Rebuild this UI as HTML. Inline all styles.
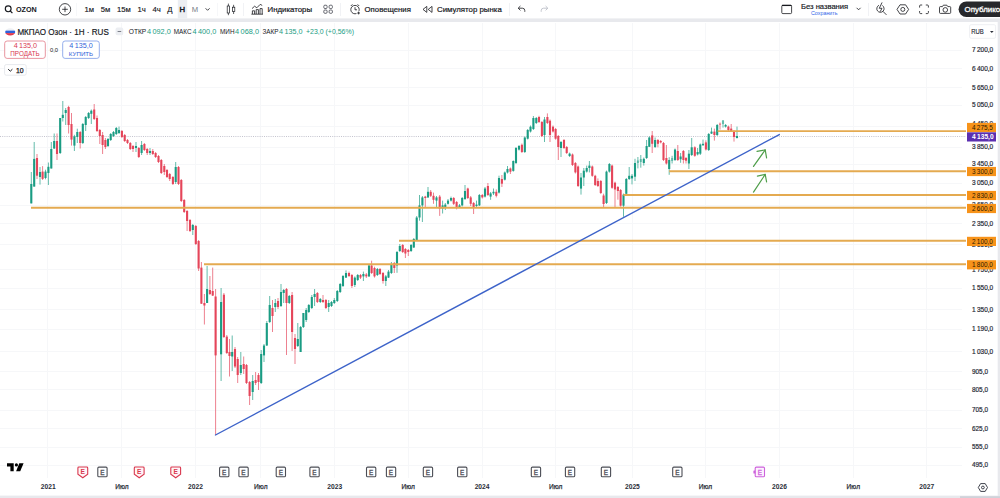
<!DOCTYPE html><html><head><meta charset="utf-8"><title>OZON</title>
<style>html,body{margin:0;padding:0;background:#fff;}body{width:1000px;height:498px;overflow:hidden;position:relative;font-family:"Liberation Sans",sans-serif;}svg{position:absolute;left:0;top:0;display:block}text{font-family:"Liberation Sans",sans-serif;}</style>
</head><body>
<svg width="1000" height="498" viewBox="0 0 1000 498">
<rect x="0" y="0" width="1000" height="498" fill="#ffffff"/>
<g stroke="#f6f7f9" stroke-width="1" shape-rendering="crispEdges">
<line x1="47.5" y1="23" x2="47.5" y2="478"/>
<line x1="121.5" y1="23" x2="121.5" y2="478"/>
<line x1="195.5" y1="23" x2="195.5" y2="478"/>
<line x1="260.5" y1="23" x2="260.5" y2="478"/>
<line x1="334.5" y1="23" x2="334.5" y2="478"/>
<line x1="408.5" y1="23" x2="408.5" y2="478"/>
<line x1="482.5" y1="23" x2="482.5" y2="478"/>
<line x1="555.5" y1="23" x2="555.5" y2="478"/>
<line x1="632.5" y1="23" x2="632.5" y2="478"/>
<line x1="705.5" y1="23" x2="705.5" y2="478"/>
<line x1="779.5" y1="23" x2="779.5" y2="478"/>
<line x1="853.5" y1="23" x2="853.5" y2="478"/>
<line x1="926.5" y1="23" x2="926.5" y2="478"/>
<line x1="0" y1="50.5" x2="962" y2="50.5"/>
<line x1="0" y1="68.5" x2="962" y2="68.5"/>
<line x1="0" y1="87.5" x2="962" y2="87.5"/>
<line x1="0" y1="105.5" x2="962" y2="105.5"/>
<line x1="0" y1="147.5" x2="962" y2="147.5"/>
<line x1="0" y1="164.5" x2="962" y2="164.5"/>
<line x1="0" y1="183.5" x2="962" y2="183.5"/>
<line x1="0" y1="223.5" x2="962" y2="223.5"/>
<line x1="0" y1="288.5" x2="962" y2="288.5"/>
<line x1="0" y1="309.5" x2="962" y2="309.5"/>
<line x1="0" y1="329.5" x2="962" y2="329.5"/>
<line x1="0" y1="351.5" x2="962" y2="351.5"/>
<line x1="0" y1="371.5" x2="962" y2="371.5"/>
<line x1="0" y1="389.5" x2="962" y2="389.5"/>
<line x1="0" y1="410.5" x2="962" y2="410.5"/>
<line x1="0" y1="428.5" x2="962" y2="428.5"/>
<line x1="0" y1="447.5" x2="962" y2="447.5"/>
<line x1="0" y1="465.5" x2="962" y2="465.5"/>
<line x1="0" y1="126.5" x2="962" y2="126.5"/>
<line x1="0" y1="205.5" x2="962" y2="205.5"/>
<line x1="0" y1="244.5" x2="962" y2="244.5"/>
<line x1="0" y1="269.5" x2="962" y2="269.5"/>
</g>
<line x1="0" y1="136.5" x2="966" y2="136.5" stroke="#a3a3b4" stroke-width="0.8" stroke-dasharray="1 1.2" opacity="0.8"/>
<g>
<line x1="31.3" y1="172.0" x2="31.3" y2="203.4" stroke="#1a9c83" stroke-width="0.9" opacity="0.75"/>
<rect x="30.25" y="184.0" width="2.1" height="19.4" fill="#1a9c83"/>
<line x1="34.2" y1="142.0" x2="34.2" y2="186.6" stroke="#1a9c83" stroke-width="0.9" opacity="0.75"/>
<rect x="33.15" y="158.9" width="2.1" height="27.7" fill="#1a9c83"/>
<line x1="37.0" y1="154.0" x2="37.0" y2="179.0" stroke="#e5455a" stroke-width="0.9" opacity="0.75"/>
<rect x="35.95" y="158.0" width="2.1" height="17.7" fill="#e5455a"/>
<line x1="40.0" y1="167.0" x2="40.0" y2="184.6" stroke="#1a9c83" stroke-width="0.9" opacity="0.75"/>
<rect x="38.95" y="172.0" width="2.1" height="5.0" fill="#1a9c83"/>
<line x1="42.6" y1="166.1" x2="42.6" y2="180.0" stroke="#e5455a" stroke-width="0.9" opacity="0.75"/>
<rect x="41.55" y="171.6" width="2.1" height="7.3" fill="#e5455a"/>
<line x1="45.5" y1="169.7" x2="45.5" y2="179.3" stroke="#1a9c83" stroke-width="0.9" opacity="0.75"/>
<rect x="44.45" y="171.6" width="2.1" height="6.4" fill="#1a9c83"/>
<line x1="48.4" y1="162.5" x2="48.4" y2="185.0" stroke="#1a9c83" stroke-width="0.9" opacity="0.75"/>
<rect x="47.35" y="166.8" width="2.1" height="6.2" fill="#1a9c83"/>
<line x1="51.3" y1="142.0" x2="51.3" y2="168.5" stroke="#1a9c83" stroke-width="0.9" opacity="0.75"/>
<rect x="50.25" y="149.0" width="2.1" height="19.5" fill="#1a9c83"/>
<line x1="54.2" y1="133.5" x2="54.2" y2="149.0" stroke="#1a9c83" stroke-width="0.9" opacity="0.75"/>
<rect x="53.15" y="141.0" width="2.1" height="7.5" fill="#1a9c83"/>
<line x1="57.0" y1="133.5" x2="57.0" y2="160.0" stroke="#e5455a" stroke-width="0.9" opacity="0.75"/>
<rect x="55.95" y="141.0" width="2.1" height="13.0" fill="#e5455a"/>
<line x1="60.2" y1="118.0" x2="60.2" y2="154.0" stroke="#1a9c83" stroke-width="0.9" opacity="0.75"/>
<rect x="59.15" y="118.0" width="2.1" height="35.0" fill="#1a9c83"/>
<line x1="62.8" y1="101.0" x2="62.8" y2="121.5" stroke="#1a9c83" stroke-width="0.9" opacity="0.75"/>
<rect x="61.75" y="114.8" width="2.1" height="3.2" fill="#1a9c83"/>
<line x1="65.7" y1="108.0" x2="65.7" y2="125.0" stroke="#1a9c83" stroke-width="0.9" opacity="0.75"/>
<rect x="64.65" y="110.0" width="2.1" height="3.0" fill="#1a9c83"/>
<line x1="68.6" y1="105.8" x2="68.6" y2="133.5" stroke="#e5455a" stroke-width="0.9" opacity="0.75"/>
<rect x="67.55" y="107.0" width="2.1" height="18.0" fill="#e5455a"/>
<line x1="71.5" y1="113.0" x2="71.5" y2="145.6" stroke="#e5455a" stroke-width="0.9" opacity="0.75"/>
<rect x="70.45" y="124.0" width="2.1" height="15.6" fill="#e5455a"/>
<line x1="74.4" y1="134.8" x2="74.4" y2="151.0" stroke="#1a9c83" stroke-width="0.9" opacity="0.75"/>
<rect x="73.35" y="136.4" width="2.1" height="9.2" fill="#1a9c83"/>
<line x1="77.3" y1="128.7" x2="77.3" y2="143.0" stroke="#1a9c83" stroke-width="0.9" opacity="0.75"/>
<rect x="76.25" y="132.0" width="2.1" height="5.0" fill="#1a9c83"/>
<line x1="80.2" y1="131.0" x2="80.2" y2="148.5" stroke="#e5455a" stroke-width="0.9" opacity="0.75"/>
<rect x="79.15" y="132.0" width="2.1" height="11.0" fill="#e5455a"/>
<line x1="82.8" y1="123.0" x2="82.8" y2="144.0" stroke="#1a9c83" stroke-width="0.9" opacity="0.75"/>
<rect x="81.75" y="124.0" width="2.1" height="19.0" fill="#1a9c83"/>
<line x1="85.7" y1="116.0" x2="85.7" y2="131.0" stroke="#1a9c83" stroke-width="0.9" opacity="0.75"/>
<rect x="84.65" y="117.0" width="2.1" height="8.0" fill="#1a9c83"/>
<line x1="88.6" y1="112.0" x2="88.6" y2="119.0" stroke="#1a9c83" stroke-width="0.9" opacity="0.75"/>
<rect x="87.55" y="113.0" width="2.1" height="5.0" fill="#1a9c83"/>
<line x1="91.3" y1="109.5" x2="91.3" y2="124.0" stroke="#1a9c83" stroke-width="0.9" opacity="0.75"/>
<rect x="90.25" y="110.7" width="2.1" height="3.1" fill="#1a9c83"/>
<line x1="94.2" y1="104.0" x2="94.2" y2="120.0" stroke="#e5455a" stroke-width="0.9" opacity="0.75"/>
<rect x="93.15" y="109.5" width="2.1" height="9.5" fill="#e5455a"/>
<line x1="97.0" y1="115.5" x2="97.0" y2="132.0" stroke="#e5455a" stroke-width="0.9" opacity="0.75"/>
<rect x="95.95" y="118.0" width="2.1" height="13.0" fill="#e5455a"/>
<line x1="99.8" y1="129.0" x2="99.8" y2="144.0" stroke="#e5455a" stroke-width="0.9" opacity="0.75"/>
<rect x="98.75" y="130.0" width="2.1" height="6.0" fill="#e5455a"/>
<line x1="102.6" y1="132.0" x2="102.6" y2="154.0" stroke="#e5455a" stroke-width="0.9" opacity="0.75"/>
<rect x="101.55" y="135.0" width="2.1" height="10.0" fill="#e5455a"/>
<line x1="105.4" y1="138.0" x2="105.4" y2="149.0" stroke="#e5455a" stroke-width="0.9" opacity="0.75"/>
<rect x="104.35" y="140.0" width="2.1" height="7.0" fill="#e5455a"/>
<line x1="108.0" y1="138.0" x2="108.0" y2="147.0" stroke="#1a9c83" stroke-width="0.9" opacity="0.75"/>
<rect x="106.95" y="139.0" width="2.1" height="7.0" fill="#1a9c83"/>
<line x1="110.7" y1="133.0" x2="110.7" y2="141.0" stroke="#1a9c83" stroke-width="0.9" opacity="0.75"/>
<rect x="109.65" y="134.0" width="2.1" height="6.0" fill="#1a9c83"/>
<line x1="113.5" y1="131.0" x2="113.5" y2="137.0" stroke="#1a9c83" stroke-width="0.9" opacity="0.75"/>
<rect x="112.45" y="132.0" width="2.1" height="4.0" fill="#1a9c83"/>
<line x1="116.3" y1="127.0" x2="116.3" y2="135.0" stroke="#1a9c83" stroke-width="0.9" opacity="0.75"/>
<rect x="115.25" y="128.0" width="2.1" height="6.0" fill="#1a9c83"/>
<line x1="119.0" y1="126.6" x2="119.0" y2="134.0" stroke="#1a9c83" stroke-width="0.9" opacity="0.75"/>
<rect x="117.95" y="130.0" width="2.1" height="3.0" fill="#1a9c83"/>
<line x1="121.9" y1="130.0" x2="121.9" y2="138.0" stroke="#e5455a" stroke-width="0.9" opacity="0.75"/>
<rect x="120.85" y="131.0" width="2.1" height="6.0" fill="#e5455a"/>
<line x1="124.7" y1="134.0" x2="124.7" y2="142.0" stroke="#e5455a" stroke-width="0.9" opacity="0.75"/>
<rect x="123.65" y="135.0" width="2.1" height="6.0" fill="#e5455a"/>
<line x1="127.5" y1="139.0" x2="127.5" y2="144.0" stroke="#e5455a" stroke-width="0.9" opacity="0.75"/>
<rect x="126.45" y="140.0" width="2.1" height="3.0" fill="#e5455a"/>
<line x1="130.3" y1="142.0" x2="130.3" y2="150.0" stroke="#e5455a" stroke-width="0.9" opacity="0.75"/>
<rect x="129.25" y="143.0" width="2.1" height="6.0" fill="#e5455a"/>
<line x1="133.0" y1="145.0" x2="133.0" y2="152.0" stroke="#e5455a" stroke-width="0.9" opacity="0.75"/>
<rect x="131.95" y="146.0" width="2.1" height="3.0" fill="#e5455a"/>
<line x1="136.0" y1="142.0" x2="136.0" y2="152.0" stroke="#1a9c83" stroke-width="0.9" opacity="0.75"/>
<rect x="134.95" y="146.0" width="2.1" height="2.0" fill="#1a9c83"/>
<line x1="138.8" y1="147.0" x2="138.8" y2="158.0" stroke="#e5455a" stroke-width="0.9" opacity="0.75"/>
<rect x="137.75" y="148.0" width="2.1" height="9.0" fill="#e5455a"/>
<line x1="141.6" y1="141.0" x2="141.6" y2="155.0" stroke="#1a9c83" stroke-width="0.9" opacity="0.75"/>
<rect x="140.55" y="145.0" width="2.1" height="8.0" fill="#1a9c83"/>
<line x1="144.4" y1="143.0" x2="144.4" y2="151.0" stroke="#e5455a" stroke-width="0.9" opacity="0.75"/>
<rect x="143.35" y="144.0" width="2.1" height="6.0" fill="#e5455a"/>
<line x1="147.2" y1="148.0" x2="147.2" y2="155.0" stroke="#e5455a" stroke-width="0.9" opacity="0.75"/>
<rect x="146.15" y="149.0" width="2.1" height="4.0" fill="#e5455a"/>
<line x1="150.0" y1="148.0" x2="150.0" y2="155.0" stroke="#1a9c83" stroke-width="0.9" opacity="0.75"/>
<rect x="148.95" y="151.0" width="2.1" height="2.0" fill="#1a9c83"/>
<line x1="152.8" y1="149.0" x2="152.8" y2="155.0" stroke="#e5455a" stroke-width="0.9" opacity="0.75"/>
<rect x="151.75" y="151.0" width="2.1" height="3.0" fill="#e5455a"/>
<line x1="155.6" y1="152.0" x2="155.6" y2="158.0" stroke="#e5455a" stroke-width="0.9" opacity="0.75"/>
<rect x="154.55" y="153.0" width="2.1" height="4.0" fill="#e5455a"/>
<line x1="158.5" y1="155.0" x2="158.5" y2="163.0" stroke="#e5455a" stroke-width="0.9" opacity="0.75"/>
<rect x="157.45" y="156.0" width="2.1" height="6.0" fill="#e5455a"/>
<line x1="161.3" y1="159.0" x2="161.3" y2="174.0" stroke="#e5455a" stroke-width="0.9" opacity="0.75"/>
<rect x="160.25" y="160.0" width="2.1" height="13.0" fill="#e5455a"/>
<line x1="164.3" y1="164.0" x2="164.3" y2="175.0" stroke="#e5455a" stroke-width="0.9" opacity="0.75"/>
<rect x="163.25" y="166.0" width="2.1" height="6.0" fill="#e5455a"/>
<line x1="167.0" y1="169.0" x2="167.0" y2="178.0" stroke="#e5455a" stroke-width="0.9" opacity="0.75"/>
<rect x="165.95" y="170.0" width="2.1" height="7.0" fill="#e5455a"/>
<line x1="169.7" y1="173.0" x2="169.7" y2="181.0" stroke="#e5455a" stroke-width="0.9" opacity="0.75"/>
<rect x="168.65" y="174.0" width="2.1" height="5.0" fill="#e5455a"/>
<line x1="172.9" y1="176.0" x2="172.9" y2="185.0" stroke="#e5455a" stroke-width="0.9" opacity="0.75"/>
<rect x="171.85" y="177.0" width="2.1" height="7.0" fill="#e5455a"/>
<line x1="175.7" y1="162.0" x2="175.7" y2="184.0" stroke="#1a9c83" stroke-width="0.9" opacity="0.75"/>
<rect x="174.65" y="167.0" width="2.1" height="15.0" fill="#1a9c83"/>
<line x1="178.5" y1="166.0" x2="178.5" y2="185.0" stroke="#e5455a" stroke-width="0.9" opacity="0.75"/>
<rect x="177.45" y="167.0" width="2.1" height="17.0" fill="#e5455a"/>
<line x1="181.3" y1="179.0" x2="181.3" y2="202.0" stroke="#e5455a" stroke-width="0.9" opacity="0.75"/>
<rect x="180.25" y="180.0" width="2.1" height="21.0" fill="#e5455a"/>
<line x1="184.2" y1="199.0" x2="184.2" y2="213.0" stroke="#e5455a" stroke-width="0.9" opacity="0.75"/>
<rect x="183.15" y="200.0" width="2.1" height="12.0" fill="#e5455a"/>
<line x1="187.1" y1="210.0" x2="187.1" y2="231.0" stroke="#e5455a" stroke-width="0.9" opacity="0.75"/>
<rect x="186.05" y="211.0" width="2.1" height="10.0" fill="#e5455a"/>
<line x1="190.0" y1="219.0" x2="190.0" y2="232.0" stroke="#e5455a" stroke-width="0.9" opacity="0.75"/>
<rect x="188.95" y="220.0" width="2.1" height="11.0" fill="#e5455a"/>
<line x1="192.8" y1="224.0" x2="192.8" y2="235.0" stroke="#1a9c83" stroke-width="0.9" opacity="0.75"/>
<rect x="191.75" y="225.0" width="2.1" height="5.0" fill="#1a9c83"/>
<line x1="195.8" y1="225.0" x2="195.8" y2="245.0" stroke="#e5455a" stroke-width="0.9" opacity="0.75"/>
<rect x="194.75" y="226.0" width="2.1" height="18.0" fill="#e5455a"/>
<line x1="198.6" y1="240.0" x2="198.6" y2="271.0" stroke="#e5455a" stroke-width="0.9" opacity="0.75"/>
<rect x="197.55" y="241.0" width="2.1" height="27.5" fill="#e5455a"/>
<line x1="201.4" y1="262.0" x2="201.4" y2="304.0" stroke="#e5455a" stroke-width="0.9" opacity="0.75"/>
<rect x="200.35" y="267.6" width="2.1" height="36.1" fill="#e5455a"/>
<line x1="204.4" y1="294.0" x2="204.4" y2="324.5" stroke="#e5455a" stroke-width="0.9" opacity="0.75"/>
<rect x="203.35" y="303.0" width="2.1" height="2.5" fill="#e5455a"/>
<line x1="207.1" y1="266.0" x2="207.1" y2="303.0" stroke="#1a9c83" stroke-width="0.9" opacity="0.75"/>
<rect x="206.05" y="289.0" width="2.1" height="14.0" fill="#1a9c83"/>
<line x1="209.9" y1="276.0" x2="209.9" y2="295.0" stroke="#e5455a" stroke-width="0.9" opacity="0.75"/>
<rect x="208.85" y="290.0" width="2.1" height="4.0" fill="#e5455a"/>
<line x1="212.7" y1="267.6" x2="212.7" y2="296.0" stroke="#e5455a" stroke-width="0.9" opacity="0.75"/>
<rect x="211.65" y="291.0" width="2.1" height="4.6" fill="#e5455a"/>
<line x1="215.6" y1="289.0" x2="215.6" y2="435.0" stroke="#e5455a" stroke-width="0.9" opacity="0.75"/>
<rect x="214.55" y="296.5" width="2.1" height="58.9" fill="#e5455a"/>
<line x1="221.1" y1="288.0" x2="221.1" y2="381.0" stroke="#1a9c83" stroke-width="0.9" opacity="0.75"/>
<rect x="220.05" y="302.0" width="2.1" height="52.3" fill="#1a9c83"/>
<line x1="223.9" y1="293.0" x2="223.9" y2="338.0" stroke="#e5455a" stroke-width="0.9" opacity="0.75"/>
<rect x="222.85" y="294.7" width="2.1" height="42.3" fill="#e5455a"/>
<line x1="226.8" y1="335.0" x2="226.8" y2="354.0" stroke="#e5455a" stroke-width="0.9" opacity="0.75"/>
<rect x="225.75" y="336.6" width="2.1" height="16.4" fill="#e5455a"/>
<line x1="229.5" y1="339.0" x2="229.5" y2="376.5" stroke="#e5455a" stroke-width="0.9" opacity="0.75"/>
<rect x="228.45" y="352.0" width="2.1" height="4.0" fill="#e5455a"/>
<line x1="232.2" y1="335.5" x2="232.2" y2="371.0" stroke="#1a9c83" stroke-width="0.9" opacity="0.75"/>
<rect x="231.15" y="352.0" width="2.1" height="4.5" fill="#1a9c83"/>
<line x1="235.0" y1="347.0" x2="235.0" y2="368.0" stroke="#e5455a" stroke-width="0.9" opacity="0.75"/>
<rect x="233.95" y="349.0" width="2.1" height="17.5" fill="#e5455a"/>
<line x1="237.7" y1="357.0" x2="237.7" y2="383.0" stroke="#e5455a" stroke-width="0.9" opacity="0.75"/>
<rect x="236.65" y="359.0" width="2.1" height="16.0" fill="#e5455a"/>
<line x1="240.8" y1="352.0" x2="240.8" y2="375.0" stroke="#1a9c83" stroke-width="0.9" opacity="0.75"/>
<rect x="239.75" y="365.0" width="2.1" height="8.0" fill="#1a9c83"/>
<line x1="243.7" y1="356.5" x2="243.7" y2="374.0" stroke="#e5455a" stroke-width="0.9" opacity="0.75"/>
<rect x="242.65" y="364.0" width="2.1" height="5.0" fill="#e5455a"/>
<line x1="246.5" y1="364.0" x2="246.5" y2="384.0" stroke="#e5455a" stroke-width="0.9" opacity="0.75"/>
<rect x="245.45" y="365.0" width="2.1" height="18.0" fill="#e5455a"/>
<line x1="249.6" y1="381.0" x2="249.6" y2="405.0" stroke="#e5455a" stroke-width="0.9" opacity="0.75"/>
<rect x="248.55" y="382.0" width="2.1" height="14.0" fill="#e5455a"/>
<line x1="252.7" y1="375.0" x2="252.7" y2="400.0" stroke="#1a9c83" stroke-width="0.9" opacity="0.75"/>
<rect x="251.65" y="381.0" width="2.1" height="11.0" fill="#1a9c83"/>
<line x1="255.6" y1="372.0" x2="255.6" y2="385.0" stroke="#e5455a" stroke-width="0.9" opacity="0.75"/>
<rect x="254.55" y="380.0" width="2.1" height="3.0" fill="#e5455a"/>
<line x1="258.5" y1="373.0" x2="258.5" y2="390.0" stroke="#e5455a" stroke-width="0.9" opacity="0.75"/>
<rect x="257.45" y="375.0" width="2.1" height="7.0" fill="#e5455a"/>
<line x1="261.2" y1="350.0" x2="261.2" y2="384.0" stroke="#1a9c83" stroke-width="0.9" opacity="0.75"/>
<rect x="260.15" y="354.0" width="2.1" height="29.0" fill="#1a9c83"/>
<line x1="264.0" y1="344.0" x2="264.0" y2="362.0" stroke="#1a9c83" stroke-width="0.9" opacity="0.75"/>
<rect x="262.95" y="345.5" width="2.1" height="9.9" fill="#1a9c83"/>
<line x1="266.8" y1="321.0" x2="266.8" y2="346.0" stroke="#1a9c83" stroke-width="0.9" opacity="0.75"/>
<rect x="265.75" y="323.0" width="2.1" height="22.5" fill="#1a9c83"/>
<line x1="269.7" y1="296.0" x2="269.7" y2="323.0" stroke="#1a9c83" stroke-width="0.9" opacity="0.75"/>
<rect x="268.65" y="305.0" width="2.1" height="17.0" fill="#1a9c83"/>
<line x1="272.5" y1="300.0" x2="272.5" y2="332.0" stroke="#e5455a" stroke-width="0.9" opacity="0.75"/>
<rect x="271.45" y="308.0" width="2.1" height="8.0" fill="#e5455a"/>
<line x1="275.3" y1="299.0" x2="275.3" y2="312.0" stroke="#1a9c83" stroke-width="0.9" opacity="0.75"/>
<rect x="274.25" y="303.0" width="2.1" height="4.0" fill="#1a9c83"/>
<line x1="278.0" y1="298.0" x2="278.0" y2="309.0" stroke="#e5455a" stroke-width="0.9" opacity="0.75"/>
<rect x="276.95" y="301.0" width="2.1" height="6.0" fill="#e5455a"/>
<line x1="281.0" y1="284.0" x2="281.0" y2="307.0" stroke="#1a9c83" stroke-width="0.9" opacity="0.75"/>
<rect x="279.95" y="292.0" width="2.1" height="14.0" fill="#1a9c83"/>
<line x1="283.7" y1="289.0" x2="283.7" y2="303.0" stroke="#1a9c83" stroke-width="0.9" opacity="0.75"/>
<rect x="282.65" y="290.0" width="2.1" height="3.0" fill="#1a9c83"/>
<line x1="286.5" y1="288.0" x2="286.5" y2="355.0" stroke="#e5455a" stroke-width="0.9" opacity="0.75"/>
<rect x="285.45" y="289.0" width="2.1" height="14.0" fill="#e5455a"/>
<line x1="289.3" y1="295.0" x2="289.3" y2="304.0" stroke="#1a9c83" stroke-width="0.9" opacity="0.75"/>
<rect x="288.25" y="296.0" width="2.1" height="7.0" fill="#1a9c83"/>
<line x1="292.1" y1="292.0" x2="292.1" y2="351.0" stroke="#e5455a" stroke-width="0.9" opacity="0.75"/>
<rect x="291.05" y="295.0" width="2.1" height="37.0" fill="#e5455a"/>
<line x1="295.0" y1="334.0" x2="295.0" y2="364.0" stroke="#e5455a" stroke-width="0.9" opacity="0.75"/>
<rect x="293.95" y="338.0" width="2.1" height="11.0" fill="#e5455a"/>
<line x1="297.8" y1="323.0" x2="297.8" y2="347.0" stroke="#1a9c83" stroke-width="0.9" opacity="0.75"/>
<rect x="296.75" y="339.0" width="2.1" height="7.0" fill="#1a9c83"/>
<line x1="300.6" y1="326.0" x2="300.6" y2="352.0" stroke="#1a9c83" stroke-width="0.9" opacity="0.75"/>
<rect x="299.55" y="327.0" width="2.1" height="25.0" fill="#1a9c83"/>
<line x1="303.4" y1="313.0" x2="303.4" y2="328.0" stroke="#1a9c83" stroke-width="0.9" opacity="0.75"/>
<rect x="302.35" y="313.0" width="2.1" height="14.0" fill="#1a9c83"/>
<line x1="306.2" y1="308.0" x2="306.2" y2="322.0" stroke="#1a9c83" stroke-width="0.9" opacity="0.75"/>
<rect x="305.15" y="310.0" width="2.1" height="10.0" fill="#1a9c83"/>
<line x1="308.8" y1="304.0" x2="308.8" y2="313.0" stroke="#1a9c83" stroke-width="0.9" opacity="0.75"/>
<rect x="307.75" y="305.0" width="2.1" height="7.0" fill="#1a9c83"/>
<line x1="311.8" y1="295.0" x2="311.8" y2="309.0" stroke="#1a9c83" stroke-width="0.9" opacity="0.75"/>
<rect x="310.75" y="297.0" width="2.1" height="11.0" fill="#1a9c83"/>
<line x1="314.6" y1="289.0" x2="314.6" y2="306.0" stroke="#1a9c83" stroke-width="0.9" opacity="0.75"/>
<rect x="313.55" y="294.0" width="2.1" height="3.0" fill="#1a9c83"/>
<line x1="317.4" y1="292.0" x2="317.4" y2="303.0" stroke="#e5455a" stroke-width="0.9" opacity="0.75"/>
<rect x="316.35" y="293.0" width="2.1" height="9.0" fill="#e5455a"/>
<line x1="320.3" y1="298.0" x2="320.3" y2="303.0" stroke="#1a9c83" stroke-width="0.9" opacity="0.75"/>
<rect x="319.25" y="299.0" width="2.1" height="3.0" fill="#1a9c83"/>
<line x1="323.0" y1="295.0" x2="323.0" y2="303.0" stroke="#e5455a" stroke-width="0.9" opacity="0.75"/>
<rect x="321.95" y="300.0" width="2.1" height="2.0" fill="#e5455a"/>
<line x1="325.9" y1="299.0" x2="325.9" y2="309.0" stroke="#e5455a" stroke-width="0.9" opacity="0.75"/>
<rect x="324.85" y="300.0" width="2.1" height="8.0" fill="#e5455a"/>
<line x1="328.7" y1="300.0" x2="328.7" y2="312.0" stroke="#1a9c83" stroke-width="0.9" opacity="0.75"/>
<rect x="327.65" y="303.0" width="2.1" height="4.0" fill="#1a9c83"/>
<line x1="331.5" y1="301.0" x2="331.5" y2="307.0" stroke="#1a9c83" stroke-width="0.9" opacity="0.75"/>
<rect x="330.45" y="302.0" width="2.1" height="4.0" fill="#1a9c83"/>
<line x1="334.3" y1="298.0" x2="334.3" y2="304.0" stroke="#1a9c83" stroke-width="0.9" opacity="0.75"/>
<rect x="333.25" y="300.0" width="2.1" height="3.0" fill="#1a9c83"/>
<line x1="337.3" y1="290.0" x2="337.3" y2="302.0" stroke="#1a9c83" stroke-width="0.9" opacity="0.75"/>
<rect x="336.25" y="291.0" width="2.1" height="10.0" fill="#1a9c83"/>
<line x1="340.2" y1="283.0" x2="340.2" y2="293.0" stroke="#1a9c83" stroke-width="0.9" opacity="0.75"/>
<rect x="339.15" y="284.0" width="2.1" height="8.0" fill="#1a9c83"/>
<line x1="343.0" y1="275.0" x2="343.0" y2="287.0" stroke="#1a9c83" stroke-width="0.9" opacity="0.75"/>
<rect x="341.95" y="276.0" width="2.1" height="10.0" fill="#1a9c83"/>
<line x1="346.0" y1="270.4" x2="346.0" y2="278.0" stroke="#1a9c83" stroke-width="0.9" opacity="0.75"/>
<rect x="344.95" y="273.0" width="2.1" height="4.6" fill="#1a9c83"/>
<line x1="349.0" y1="271.6" x2="349.0" y2="277.0" stroke="#e5455a" stroke-width="0.9" opacity="0.75"/>
<rect x="347.95" y="273.0" width="2.1" height="3.0" fill="#e5455a"/>
<line x1="351.9" y1="274.0" x2="351.9" y2="288.0" stroke="#e5455a" stroke-width="0.9" opacity="0.75"/>
<rect x="350.85" y="275.0" width="2.1" height="11.0" fill="#e5455a"/>
<line x1="354.8" y1="276.4" x2="354.8" y2="287.0" stroke="#1a9c83" stroke-width="0.9" opacity="0.75"/>
<rect x="353.75" y="277.6" width="2.1" height="7.4" fill="#1a9c83"/>
<line x1="357.7" y1="274.0" x2="357.7" y2="281.0" stroke="#1a9c83" stroke-width="0.9" opacity="0.75"/>
<rect x="356.65" y="275.0" width="2.1" height="5.0" fill="#1a9c83"/>
<line x1="360.5" y1="274.0" x2="360.5" y2="279.0" stroke="#e5455a" stroke-width="0.9" opacity="0.75"/>
<rect x="359.45" y="275.0" width="2.1" height="2.6" fill="#e5455a"/>
<line x1="363.4" y1="271.6" x2="363.4" y2="281.0" stroke="#1a9c83" stroke-width="0.9" opacity="0.75"/>
<rect x="362.35" y="274.0" width="2.1" height="2.4" fill="#1a9c83"/>
<line x1="366.3" y1="273.0" x2="366.3" y2="278.0" stroke="#e5455a" stroke-width="0.9" opacity="0.75"/>
<rect x="365.25" y="274.5" width="2.1" height="1.9" fill="#e5455a"/>
<line x1="369.0" y1="264.0" x2="369.0" y2="277.0" stroke="#1a9c83" stroke-width="0.9" opacity="0.75"/>
<rect x="367.95" y="265.5" width="2.1" height="10.9" fill="#1a9c83"/>
<line x1="371.6" y1="260.7" x2="371.6" y2="274.0" stroke="#e5455a" stroke-width="0.9" opacity="0.75"/>
<rect x="370.55" y="265.5" width="2.1" height="7.5" fill="#e5455a"/>
<line x1="374.5" y1="266.7" x2="374.5" y2="277.6" stroke="#e5455a" stroke-width="0.9" opacity="0.75"/>
<rect x="373.45" y="268.0" width="2.1" height="8.4" fill="#e5455a"/>
<line x1="377.4" y1="268.0" x2="377.4" y2="276.0" stroke="#1a9c83" stroke-width="0.9" opacity="0.75"/>
<rect x="376.35" y="269.0" width="2.1" height="6.0" fill="#1a9c83"/>
<line x1="380.0" y1="268.0" x2="380.0" y2="275.0" stroke="#e5455a" stroke-width="0.9" opacity="0.75"/>
<rect x="378.95" y="269.0" width="2.1" height="5.0" fill="#e5455a"/>
<line x1="383.0" y1="272.0" x2="383.0" y2="283.6" stroke="#e5455a" stroke-width="0.9" opacity="0.75"/>
<rect x="381.95" y="273.0" width="2.1" height="8.0" fill="#e5455a"/>
<line x1="385.8" y1="275.0" x2="385.8" y2="286.0" stroke="#1a9c83" stroke-width="0.9" opacity="0.75"/>
<rect x="384.75" y="276.4" width="2.1" height="4.6" fill="#1a9c83"/>
<line x1="388.5" y1="270.0" x2="388.5" y2="278.0" stroke="#1a9c83" stroke-width="0.9" opacity="0.75"/>
<rect x="387.45" y="271.6" width="2.1" height="6.0" fill="#1a9c83"/>
<line x1="391.4" y1="262.0" x2="391.4" y2="274.0" stroke="#1a9c83" stroke-width="0.9" opacity="0.75"/>
<rect x="390.35" y="264.0" width="2.1" height="9.0" fill="#1a9c83"/>
<line x1="394.3" y1="262.0" x2="394.3" y2="273.0" stroke="#e5455a" stroke-width="0.9" opacity="0.75"/>
<rect x="393.25" y="263.0" width="2.1" height="5.0" fill="#e5455a"/>
<line x1="397.0" y1="251.0" x2="397.0" y2="272.8" stroke="#1a9c83" stroke-width="0.9" opacity="0.75"/>
<rect x="395.95" y="252.0" width="2.1" height="13.5" fill="#1a9c83"/>
<line x1="399.8" y1="244.0" x2="399.8" y2="252.0" stroke="#1a9c83" stroke-width="0.9" opacity="0.75"/>
<rect x="398.75" y="246.0" width="2.1" height="5.0" fill="#1a9c83"/>
<line x1="402.7" y1="244.0" x2="402.7" y2="253.0" stroke="#e5455a" stroke-width="0.9" opacity="0.75"/>
<rect x="401.65" y="245.0" width="2.1" height="7.0" fill="#e5455a"/>
<line x1="405.4" y1="248.0" x2="405.4" y2="258.0" stroke="#e5455a" stroke-width="0.9" opacity="0.75"/>
<rect x="404.35" y="249.0" width="2.1" height="4.5" fill="#e5455a"/>
<line x1="408.3" y1="249.0" x2="408.3" y2="256.0" stroke="#e5455a" stroke-width="0.9" opacity="0.75"/>
<rect x="407.25" y="250.0" width="2.1" height="2.0" fill="#e5455a"/>
<line x1="411.1" y1="244.0" x2="411.1" y2="252.0" stroke="#1a9c83" stroke-width="0.9" opacity="0.75"/>
<rect x="410.05" y="245.0" width="2.1" height="6.0" fill="#1a9c83"/>
<line x1="413.8" y1="238.0" x2="413.8" y2="248.0" stroke="#1a9c83" stroke-width="0.9" opacity="0.75"/>
<rect x="412.75" y="239.0" width="2.1" height="8.5" fill="#1a9c83"/>
<line x1="416.7" y1="216.0" x2="416.7" y2="241.0" stroke="#1a9c83" stroke-width="0.9" opacity="0.75"/>
<rect x="415.65" y="217.5" width="2.1" height="22.5" fill="#1a9c83"/>
<line x1="419.5" y1="195.0" x2="419.5" y2="220.7" stroke="#1a9c83" stroke-width="0.9" opacity="0.75"/>
<rect x="418.45" y="205.4" width="2.1" height="12.1" fill="#1a9c83"/>
<line x1="422.4" y1="196.0" x2="422.4" y2="222.0" stroke="#1a9c83" stroke-width="0.9" opacity="0.75"/>
<rect x="421.35" y="197.4" width="2.1" height="8.0" fill="#1a9c83"/>
<line x1="425.3" y1="195.8" x2="425.3" y2="207.0" stroke="#e5455a" stroke-width="0.9" opacity="0.75"/>
<rect x="424.25" y="196.6" width="2.1" height="1.4" fill="#e5455a"/>
<line x1="428.0" y1="187.0" x2="428.0" y2="198.0" stroke="#1a9c83" stroke-width="0.9" opacity="0.75"/>
<rect x="426.95" y="191.8" width="2.1" height="5.6" fill="#1a9c83"/>
<line x1="430.7" y1="190.0" x2="430.7" y2="197.0" stroke="#e5455a" stroke-width="0.9" opacity="0.75"/>
<rect x="429.65" y="191.8" width="2.1" height="4.0" fill="#e5455a"/>
<line x1="433.5" y1="192.6" x2="433.5" y2="203.8" stroke="#e5455a" stroke-width="0.9" opacity="0.75"/>
<rect x="432.45" y="195.8" width="2.1" height="4.0" fill="#e5455a"/>
<line x1="436.5" y1="196.0" x2="436.5" y2="207.0" stroke="#1a9c83" stroke-width="0.9" opacity="0.75"/>
<rect x="435.45" y="197.4" width="2.1" height="3.2" fill="#1a9c83"/>
<line x1="439.7" y1="195.0" x2="439.7" y2="215.9" stroke="#e5455a" stroke-width="0.9" opacity="0.75"/>
<rect x="438.65" y="196.6" width="2.1" height="12.0" fill="#e5455a"/>
<line x1="442.6" y1="200.6" x2="442.6" y2="213.5" stroke="#1a9c83" stroke-width="0.9" opacity="0.75"/>
<rect x="441.55" y="205.4" width="2.1" height="3.2" fill="#1a9c83"/>
<line x1="445.3" y1="203.0" x2="445.3" y2="210.0" stroke="#1a9c83" stroke-width="0.9" opacity="0.75"/>
<rect x="444.25" y="204.6" width="2.1" height="2.4" fill="#1a9c83"/>
<line x1="448.0" y1="199.0" x2="448.0" y2="204.6" stroke="#1a9c83" stroke-width="0.9" opacity="0.75"/>
<rect x="446.95" y="200.6" width="2.1" height="3.2" fill="#1a9c83"/>
<line x1="451.0" y1="196.6" x2="451.0" y2="201.5" stroke="#1a9c83" stroke-width="0.9" opacity="0.75"/>
<rect x="449.95" y="198.0" width="2.1" height="2.6" fill="#1a9c83"/>
<line x1="453.7" y1="197.0" x2="453.7" y2="205.0" stroke="#e5455a" stroke-width="0.9" opacity="0.75"/>
<rect x="452.65" y="198.0" width="2.1" height="5.8" fill="#e5455a"/>
<line x1="456.6" y1="201.0" x2="456.6" y2="209.4" stroke="#e5455a" stroke-width="0.9" opacity="0.75"/>
<rect x="455.55" y="202.0" width="2.1" height="5.8" fill="#e5455a"/>
<line x1="459.5" y1="204.0" x2="459.5" y2="208.0" stroke="#1a9c83" stroke-width="0.9" opacity="0.75"/>
<rect x="458.45" y="205.4" width="2.1" height="1.6" fill="#1a9c83"/>
<line x1="462.2" y1="197.0" x2="462.2" y2="206.5" stroke="#1a9c83" stroke-width="0.9" opacity="0.75"/>
<rect x="461.15" y="198.0" width="2.1" height="7.4" fill="#1a9c83"/>
<line x1="465.0" y1="185.0" x2="465.0" y2="200.0" stroke="#1a9c83" stroke-width="0.9" opacity="0.75"/>
<rect x="463.95" y="191.0" width="2.1" height="8.0" fill="#1a9c83"/>
<line x1="467.8" y1="187.7" x2="467.8" y2="199.0" stroke="#e5455a" stroke-width="0.9" opacity="0.75"/>
<rect x="466.75" y="188.5" width="2.1" height="9.5" fill="#e5455a"/>
<line x1="470.7" y1="196.0" x2="470.7" y2="206.0" stroke="#e5455a" stroke-width="0.9" opacity="0.75"/>
<rect x="469.65" y="197.4" width="2.1" height="6.4" fill="#e5455a"/>
<line x1="473.6" y1="202.0" x2="473.6" y2="214.0" stroke="#e5455a" stroke-width="0.9" opacity="0.75"/>
<rect x="472.55" y="203.0" width="2.1" height="4.8" fill="#e5455a"/>
<line x1="476.5" y1="200.6" x2="476.5" y2="207.0" stroke="#1a9c83" stroke-width="0.9" opacity="0.75"/>
<rect x="475.45" y="204.6" width="2.1" height="1.4" fill="#1a9c83"/>
<line x1="479.4" y1="194.0" x2="479.4" y2="206.0" stroke="#1a9c83" stroke-width="0.9" opacity="0.75"/>
<rect x="478.35" y="195.0" width="2.1" height="10.4" fill="#1a9c83"/>
<line x1="482.3" y1="194.0" x2="482.3" y2="198.5" stroke="#e5455a" stroke-width="0.9" opacity="0.75"/>
<rect x="481.25" y="195.0" width="2.1" height="2.4" fill="#e5455a"/>
<line x1="485.0" y1="187.0" x2="485.0" y2="197.5" stroke="#1a9c83" stroke-width="0.9" opacity="0.75"/>
<rect x="483.95" y="188.5" width="2.1" height="8.1" fill="#1a9c83"/>
<line x1="487.9" y1="183.0" x2="487.9" y2="196.0" stroke="#e5455a" stroke-width="0.9" opacity="0.75"/>
<rect x="486.85" y="186.0" width="2.1" height="9.0" fill="#e5455a"/>
<line x1="490.6" y1="192.0" x2="490.6" y2="199.8" stroke="#1a9c83" stroke-width="0.9" opacity="0.75"/>
<rect x="489.55" y="193.4" width="2.1" height="3.2" fill="#1a9c83"/>
<line x1="493.5" y1="188.5" x2="493.5" y2="195.0" stroke="#1a9c83" stroke-width="0.9" opacity="0.75"/>
<rect x="492.45" y="191.8" width="2.1" height="1.6" fill="#1a9c83"/>
<line x1="496.3" y1="189.4" x2="496.3" y2="197.4" stroke="#e5455a" stroke-width="0.9" opacity="0.75"/>
<rect x="495.25" y="191.8" width="2.1" height="4.0" fill="#e5455a"/>
<line x1="499.0" y1="175.7" x2="499.0" y2="193.5" stroke="#1a9c83" stroke-width="0.9" opacity="0.75"/>
<rect x="497.95" y="178.0" width="2.1" height="14.6" fill="#1a9c83"/>
<line x1="501.9" y1="175.0" x2="501.9" y2="187.0" stroke="#e5455a" stroke-width="0.9" opacity="0.75"/>
<rect x="500.85" y="179.0" width="2.1" height="4.7" fill="#e5455a"/>
<line x1="504.8" y1="171.5" x2="504.8" y2="180.5" stroke="#1a9c83" stroke-width="0.9" opacity="0.75"/>
<rect x="503.75" y="172.5" width="2.1" height="7.2" fill="#1a9c83"/>
<line x1="507.5" y1="166.0" x2="507.5" y2="173.5" stroke="#1a9c83" stroke-width="0.9" opacity="0.75"/>
<rect x="506.45" y="169.0" width="2.1" height="3.5" fill="#1a9c83"/>
<line x1="510.4" y1="167.5" x2="510.4" y2="174.0" stroke="#e5455a" stroke-width="0.9" opacity="0.75"/>
<rect x="509.35" y="168.5" width="2.1" height="3.2" fill="#e5455a"/>
<line x1="513.3" y1="160.4" x2="513.3" y2="171.7" stroke="#1a9c83" stroke-width="0.9" opacity="0.75"/>
<rect x="512.25" y="161.0" width="2.1" height="9.9" fill="#1a9c83"/>
<line x1="516.0" y1="147.0" x2="516.0" y2="164.0" stroke="#1a9c83" stroke-width="0.9" opacity="0.75"/>
<rect x="514.95" y="148.0" width="2.1" height="15.0" fill="#1a9c83"/>
<line x1="519.0" y1="145.0" x2="519.0" y2="150.5" stroke="#1a9c83" stroke-width="0.9" opacity="0.75"/>
<rect x="517.95" y="146.0" width="2.1" height="3.6" fill="#1a9c83"/>
<line x1="521.9" y1="143.5" x2="521.9" y2="153.0" stroke="#e5455a" stroke-width="0.9" opacity="0.75"/>
<rect x="520.85" y="144.8" width="2.1" height="7.2" fill="#e5455a"/>
<line x1="524.8" y1="136.5" x2="524.8" y2="153.0" stroke="#1a9c83" stroke-width="0.9" opacity="0.75"/>
<rect x="523.75" y="137.5" width="2.1" height="14.5" fill="#1a9c83"/>
<line x1="527.7" y1="129.0" x2="527.7" y2="139.5" stroke="#1a9c83" stroke-width="0.9" opacity="0.75"/>
<rect x="526.65" y="130.0" width="2.1" height="8.7" fill="#1a9c83"/>
<line x1="530.5" y1="125.5" x2="530.5" y2="132.5" stroke="#1a9c83" stroke-width="0.9" opacity="0.75"/>
<rect x="529.45" y="126.7" width="2.1" height="4.8" fill="#1a9c83"/>
<line x1="533.4" y1="116.0" x2="533.4" y2="130.0" stroke="#1a9c83" stroke-width="0.9" opacity="0.75"/>
<rect x="532.35" y="118.0" width="2.1" height="11.0" fill="#1a9c83"/>
<line x1="536.3" y1="117.0" x2="536.3" y2="124.0" stroke="#1a9c83" stroke-width="0.9" opacity="0.75"/>
<rect x="535.25" y="118.0" width="2.1" height="5.0" fill="#1a9c83"/>
<line x1="539.0" y1="115.8" x2="539.0" y2="123.0" stroke="#e5455a" stroke-width="0.9" opacity="0.75"/>
<rect x="537.95" y="117.0" width="2.1" height="5.0" fill="#e5455a"/>
<line x1="541.9" y1="121.0" x2="541.9" y2="137.0" stroke="#e5455a" stroke-width="0.9" opacity="0.75"/>
<rect x="540.85" y="122.0" width="2.1" height="14.0" fill="#e5455a"/>
<line x1="544.5" y1="117.0" x2="544.5" y2="142.0" stroke="#1a9c83" stroke-width="0.9" opacity="0.75"/>
<rect x="543.45" y="119.5" width="2.1" height="15.5" fill="#1a9c83"/>
<line x1="547.4" y1="113.4" x2="547.4" y2="124.0" stroke="#e5455a" stroke-width="0.9" opacity="0.75"/>
<rect x="546.35" y="117.0" width="2.1" height="6.0" fill="#e5455a"/>
<line x1="550.0" y1="119.5" x2="550.0" y2="142.0" stroke="#e5455a" stroke-width="0.9" opacity="0.75"/>
<rect x="548.95" y="120.7" width="2.1" height="14.3" fill="#e5455a"/>
<line x1="553.0" y1="125.5" x2="553.0" y2="132.5" stroke="#e5455a" stroke-width="0.9" opacity="0.75"/>
<rect x="551.95" y="126.7" width="2.1" height="4.8" fill="#e5455a"/>
<line x1="555.6" y1="128.0" x2="555.6" y2="139.7" stroke="#e5455a" stroke-width="0.9" opacity="0.75"/>
<rect x="554.55" y="129.0" width="2.1" height="9.7" fill="#e5455a"/>
<line x1="558.3" y1="135.0" x2="558.3" y2="160.0" stroke="#e5455a" stroke-width="0.9" opacity="0.75"/>
<rect x="557.25" y="136.0" width="2.1" height="11.0" fill="#e5455a"/>
<line x1="561.0" y1="141.0" x2="561.0" y2="157.0" stroke="#1a9c83" stroke-width="0.9" opacity="0.75"/>
<rect x="559.95" y="142.0" width="2.1" height="6.0" fill="#1a9c83"/>
<line x1="564.0" y1="139.0" x2="564.0" y2="149.0" stroke="#e5455a" stroke-width="0.9" opacity="0.75"/>
<rect x="562.95" y="140.0" width="2.1" height="8.0" fill="#e5455a"/>
<line x1="566.7" y1="146.0" x2="566.7" y2="154.0" stroke="#e5455a" stroke-width="0.9" opacity="0.75"/>
<rect x="565.65" y="147.0" width="2.1" height="6.0" fill="#e5455a"/>
<line x1="569.6" y1="152.6" x2="569.6" y2="157.0" stroke="#1a9c83" stroke-width="0.9" opacity="0.75"/>
<rect x="568.55" y="153.6" width="2.1" height="2.4" fill="#1a9c83"/>
<line x1="572.5" y1="153.5" x2="572.5" y2="166.0" stroke="#e5455a" stroke-width="0.9" opacity="0.75"/>
<rect x="571.45" y="154.5" width="2.1" height="10.5" fill="#e5455a"/>
<line x1="575.4" y1="162.0" x2="575.4" y2="173.5" stroke="#e5455a" stroke-width="0.9" opacity="0.75"/>
<rect x="574.35" y="163.0" width="2.1" height="9.4" fill="#e5455a"/>
<line x1="578.1" y1="165.5" x2="578.1" y2="187.0" stroke="#e5455a" stroke-width="0.9" opacity="0.75"/>
<rect x="577.05" y="166.5" width="2.1" height="19.5" fill="#e5455a"/>
<line x1="581.0" y1="173.0" x2="581.0" y2="194.6" stroke="#1a9c83" stroke-width="0.9" opacity="0.75"/>
<rect x="579.95" y="177.5" width="2.1" height="11.1" fill="#1a9c83"/>
<line x1="583.8" y1="168.0" x2="583.8" y2="186.0" stroke="#1a9c83" stroke-width="0.9" opacity="0.75"/>
<rect x="582.75" y="170.7" width="2.1" height="6.8" fill="#1a9c83"/>
<line x1="586.7" y1="165.6" x2="586.7" y2="172.6" stroke="#1a9c83" stroke-width="0.9" opacity="0.75"/>
<rect x="585.65" y="168.0" width="2.1" height="3.6" fill="#1a9c83"/>
<line x1="589.4" y1="161.0" x2="589.4" y2="172.4" stroke="#1a9c83" stroke-width="0.9" opacity="0.75"/>
<rect x="588.35" y="165.6" width="2.1" height="2.4" fill="#1a9c83"/>
<line x1="592.3" y1="165.5" x2="592.3" y2="176.8" stroke="#e5455a" stroke-width="0.9" opacity="0.75"/>
<rect x="591.25" y="166.5" width="2.1" height="9.3" fill="#e5455a"/>
<line x1="595.2" y1="174.8" x2="595.2" y2="186.0" stroke="#e5455a" stroke-width="0.9" opacity="0.75"/>
<rect x="594.15" y="175.8" width="2.1" height="9.2" fill="#e5455a"/>
<line x1="597.9" y1="178.4" x2="597.9" y2="187.0" stroke="#e5455a" stroke-width="0.9" opacity="0.75"/>
<rect x="596.85" y="181.0" width="2.1" height="5.0" fill="#e5455a"/>
<line x1="600.8" y1="180.0" x2="600.8" y2="194.0" stroke="#e5455a" stroke-width="0.9" opacity="0.75"/>
<rect x="599.75" y="181.0" width="2.1" height="12.0" fill="#e5455a"/>
<line x1="603.6" y1="193.7" x2="603.6" y2="207.4" stroke="#e5455a" stroke-width="0.9" opacity="0.75"/>
<rect x="602.55" y="195.5" width="2.1" height="8.5" fill="#e5455a"/>
<line x1="606.5" y1="170.6" x2="606.5" y2="204.0" stroke="#1a9c83" stroke-width="0.9" opacity="0.75"/>
<rect x="605.45" y="171.6" width="2.1" height="31.4" fill="#1a9c83"/>
<line x1="609.4" y1="163.0" x2="609.4" y2="172.6" stroke="#1a9c83" stroke-width="0.9" opacity="0.75"/>
<rect x="608.35" y="164.0" width="2.1" height="7.6" fill="#1a9c83"/>
<line x1="612.1" y1="164.6" x2="612.1" y2="188.8" stroke="#e5455a" stroke-width="0.9" opacity="0.75"/>
<rect x="611.05" y="165.6" width="2.1" height="22.2" fill="#e5455a"/>
<line x1="615.0" y1="181.7" x2="615.0" y2="207.4" stroke="#e5455a" stroke-width="0.9" opacity="0.75"/>
<rect x="613.95" y="182.7" width="2.1" height="6.8" fill="#e5455a"/>
<line x1="617.9" y1="186.0" x2="617.9" y2="199.7" stroke="#e5455a" stroke-width="0.9" opacity="0.75"/>
<rect x="616.85" y="187.0" width="2.1" height="4.0" fill="#e5455a"/>
<line x1="620.6" y1="189.0" x2="620.6" y2="206.7" stroke="#e5455a" stroke-width="0.9" opacity="0.75"/>
<rect x="619.55" y="190.0" width="2.1" height="15.7" fill="#e5455a"/>
<line x1="623.5" y1="193.6" x2="623.5" y2="216.8" stroke="#1a9c83" stroke-width="0.9" opacity="0.75"/>
<rect x="622.45" y="194.6" width="2.1" height="11.1" fill="#1a9c83"/>
<line x1="626.3" y1="178.0" x2="626.3" y2="194.8" stroke="#1a9c83" stroke-width="0.9" opacity="0.75"/>
<rect x="625.25" y="179.0" width="2.1" height="14.8" fill="#1a9c83"/>
<line x1="629.2" y1="167.0" x2="629.2" y2="180.0" stroke="#1a9c83" stroke-width="0.9" opacity="0.75"/>
<rect x="628.15" y="175.8" width="2.1" height="3.2" fill="#1a9c83"/>
<line x1="632.0" y1="174.0" x2="632.0" y2="184.4" stroke="#1a9c83" stroke-width="0.9" opacity="0.75"/>
<rect x="630.95" y="175.8" width="2.1" height="2.6" fill="#1a9c83"/>
<line x1="635.0" y1="158.8" x2="635.0" y2="181.0" stroke="#1a9c83" stroke-width="0.9" opacity="0.75"/>
<rect x="633.95" y="163.0" width="2.1" height="13.7" fill="#1a9c83"/>
<line x1="637.9" y1="157.0" x2="637.9" y2="168.4" stroke="#1a9c83" stroke-width="0.9" opacity="0.75"/>
<rect x="636.85" y="160.5" width="2.1" height="2.5" fill="#1a9c83" opacity="0.5"/>
<line x1="640.8" y1="155.0" x2="640.8" y2="167.7" stroke="#1a9c83" stroke-width="0.9" opacity="0.75"/>
<rect x="639.75" y="159.0" width="2.1" height="3.0" fill="#1a9c83" opacity="0.5"/>
<line x1="643.8" y1="157.5" x2="643.8" y2="165.6" stroke="#1a9c83" stroke-width="0.9" opacity="0.75"/>
<rect x="642.75" y="158.8" width="2.1" height="4.2" fill="#1a9c83"/>
<line x1="646.6" y1="140.0" x2="646.6" y2="159.0" stroke="#1a9c83" stroke-width="0.9" opacity="0.75"/>
<rect x="645.55" y="146.0" width="2.1" height="12.0" fill="#1a9c83"/>
<line x1="649.3" y1="136.5" x2="649.3" y2="146.8" stroke="#1a9c83" stroke-width="0.9" opacity="0.75"/>
<rect x="648.25" y="137.5" width="2.1" height="9.3" fill="#1a9c83"/>
<line x1="652.2" y1="131.0" x2="652.2" y2="153.0" stroke="#e5455a" stroke-width="0.9" opacity="0.75"/>
<rect x="651.15" y="135.4" width="2.1" height="8.4" fill="#e5455a"/>
<line x1="655.1" y1="137.5" x2="655.1" y2="148.0" stroke="#1a9c83" stroke-width="0.9" opacity="0.75"/>
<rect x="654.05" y="140.0" width="2.1" height="7.0" fill="#1a9c83"/>
<line x1="657.9" y1="139.0" x2="657.9" y2="147.3" stroke="#e5455a" stroke-width="0.9" opacity="0.75"/>
<rect x="656.85" y="140.0" width="2.1" height="3.8" fill="#e5455a"/>
<line x1="660.7" y1="140.0" x2="660.7" y2="143.4" stroke="#e5455a" stroke-width="0.9" opacity="0.75"/>
<rect x="659.65" y="141.0" width="2.1" height="1.4" fill="#e5455a"/>
<line x1="663.5" y1="142.0" x2="663.5" y2="161.0" stroke="#e5455a" stroke-width="0.9" opacity="0.75"/>
<rect x="662.45" y="143.0" width="2.1" height="17.0" fill="#e5455a"/>
<line x1="666.4" y1="145.0" x2="666.4" y2="164.5" stroke="#e5455a" stroke-width="0.9" opacity="0.75"/>
<rect x="665.35" y="158.0" width="2.1" height="5.5" fill="#e5455a"/>
<line x1="669.2" y1="157.2" x2="669.2" y2="174.8" stroke="#1a9c83" stroke-width="0.9" opacity="0.75"/>
<rect x="668.15" y="160.0" width="2.1" height="9.0" fill="#1a9c83"/>
<line x1="672.1" y1="155.8" x2="672.1" y2="163.5" stroke="#1a9c83" stroke-width="0.9" opacity="0.75"/>
<rect x="671.05" y="158.0" width="2.1" height="3.0" fill="#1a9c83" opacity="0.5"/>
<line x1="675.0" y1="148.5" x2="675.0" y2="161.0" stroke="#1a9c83" stroke-width="0.9" opacity="0.75"/>
<rect x="673.95" y="149.5" width="2.1" height="10.5" fill="#1a9c83"/>
<line x1="677.8" y1="145.0" x2="677.8" y2="161.0" stroke="#e5455a" stroke-width="0.9" opacity="0.75"/>
<rect x="676.75" y="151.0" width="2.1" height="9.0" fill="#e5455a"/>
<line x1="680.6" y1="153.0" x2="680.6" y2="162.8" stroke="#1a9c83" stroke-width="0.9" opacity="0.75"/>
<rect x="679.55" y="156.5" width="2.1" height="2.8" fill="#1a9c83"/>
<line x1="683.4" y1="150.0" x2="683.4" y2="163.5" stroke="#e5455a" stroke-width="0.9" opacity="0.75"/>
<rect x="682.35" y="151.0" width="2.1" height="9.0" fill="#e5455a"/>
<line x1="686.0" y1="157.0" x2="686.0" y2="163.5" stroke="#e5455a" stroke-width="0.9" opacity="0.75"/>
<rect x="684.95" y="158.0" width="2.1" height="2.7" fill="#e5455a"/>
<line x1="688.9" y1="150.0" x2="688.9" y2="169.0" stroke="#1a9c83" stroke-width="0.9" opacity="0.75"/>
<rect x="687.85" y="153.7" width="2.1" height="9.8" fill="#1a9c83"/>
<line x1="691.7" y1="138.0" x2="691.7" y2="156.0" stroke="#1a9c83" stroke-width="0.9" opacity="0.75"/>
<rect x="690.65" y="147.3" width="2.1" height="7.7" fill="#1a9c83"/>
<line x1="694.8" y1="146.3" x2="694.8" y2="156.8" stroke="#e5455a" stroke-width="0.9" opacity="0.75"/>
<rect x="693.75" y="147.3" width="2.1" height="8.5" fill="#e5455a"/>
<line x1="697.6" y1="148.0" x2="697.6" y2="155.4" stroke="#1a9c83" stroke-width="0.9" opacity="0.75"/>
<rect x="696.55" y="152.0" width="2.1" height="2.4" fill="#1a9c83"/>
<line x1="700.3" y1="143.5" x2="700.3" y2="155.0" stroke="#1a9c83" stroke-width="0.9" opacity="0.75"/>
<rect x="699.25" y="144.5" width="2.1" height="9.2" fill="#1a9c83"/>
<line x1="703.0" y1="139.6" x2="703.0" y2="146.0" stroke="#1a9c83" stroke-width="0.9" opacity="0.75"/>
<rect x="701.95" y="143.8" width="2.1" height="1.4" fill="#1a9c83"/>
<line x1="705.9" y1="140.3" x2="705.9" y2="150.5" stroke="#e5455a" stroke-width="0.9" opacity="0.75"/>
<rect x="704.85" y="142.4" width="2.1" height="7.1" fill="#e5455a"/>
<line x1="708.7" y1="133.0" x2="708.7" y2="151.0" stroke="#1a9c83" stroke-width="0.9" opacity="0.75"/>
<rect x="707.65" y="134.0" width="2.1" height="16.0" fill="#1a9c83"/>
<line x1="711.5" y1="127.6" x2="711.5" y2="134.0" stroke="#1a9c83" stroke-width="0.9" opacity="0.75"/>
<rect x="710.45" y="131.6" width="2.1" height="2.0" fill="#1a9c83"/>
<line x1="714.4" y1="128.6" x2="714.4" y2="140.6" stroke="#e5455a" stroke-width="0.9" opacity="0.75"/>
<rect x="713.35" y="131.6" width="2.1" height="3.4" fill="#e5455a"/>
<line x1="717.2" y1="124.0" x2="717.2" y2="136.0" stroke="#1a9c83" stroke-width="0.9" opacity="0.75"/>
<rect x="716.15" y="125.0" width="2.1" height="10.0" fill="#1a9c83"/>
<line x1="720.0" y1="122.5" x2="720.0" y2="129.6" stroke="#e5455a" stroke-width="0.9" opacity="0.75"/>
<rect x="718.95" y="123.5" width="2.1" height="1.5" fill="#e5455a" opacity="0.5"/>
<line x1="723.0" y1="120.0" x2="723.0" y2="127.6" stroke="#1a9c83" stroke-width="0.9" opacity="0.75"/>
<rect x="721.95" y="120.5" width="2.1" height="3.5" fill="#1a9c83" opacity="0.5"/>
<line x1="725.6" y1="124.0" x2="725.6" y2="127.6" stroke="#1a9c83" stroke-width="0.9" opacity="0.75"/>
<rect x="724.55" y="125.0" width="2.1" height="1.6" fill="#1a9c83"/>
<line x1="728.4" y1="125.6" x2="728.4" y2="131.0" stroke="#e5455a" stroke-width="0.9" opacity="0.75"/>
<rect x="727.35" y="126.6" width="2.1" height="3.4" fill="#e5455a"/>
<line x1="731.2" y1="124.0" x2="731.2" y2="132.0" stroke="#e5455a" stroke-width="0.9" opacity="0.75"/>
<rect x="730.15" y="128.6" width="2.1" height="2.4" fill="#e5455a"/>
<line x1="734.0" y1="130.0" x2="734.0" y2="141.6" stroke="#e5455a" stroke-width="0.9" opacity="0.75"/>
<rect x="732.95" y="131.0" width="2.1" height="6.0" fill="#e5455a"/>
<line x1="737.0" y1="126.6" x2="737.0" y2="138.5" stroke="#1a9c83" stroke-width="0.9" opacity="0.75"/>
<rect x="735.95" y="136.0" width="2.1" height="2.0" fill="#1a9c83"/>
</g>
<line x1="717.6" y1="131.1" x2="966" y2="131.1" stroke="#e4aa50" stroke-width="1.9"/>
<line x1="669.2" y1="171.2" x2="966" y2="171.2" stroke="#e4aa50" stroke-width="1.9"/>
<line x1="623.4" y1="195" x2="966" y2="195" stroke="#e4aa50" stroke-width="1.9"/>
<line x1="31" y1="207.8" x2="966" y2="207.8" stroke="#e4aa50" stroke-width="1.9"/>
<line x1="399" y1="240.7" x2="966" y2="240.7" stroke="#e4aa50" stroke-width="1.9"/>
<line x1="204" y1="264.3" x2="966" y2="264.3" stroke="#e4aa50" stroke-width="1.9"/>
<line x1="215.5" y1="435" x2="779.3" y2="134.6" stroke="#3d63c9" stroke-width="1.4" stroke-linecap="round"/>
<g stroke="#4f9e4a" stroke-width="1.2" fill="none" stroke-linecap="round" stroke-linejoin="round"><path d="M753.5 166.4 L765.2 149.9"/><path d="M757 151.4 L765.2 149.9 L766.6 158"/><path d="M753.5 192.1 L765.2 174.4"/><path d="M757.4 176.1 L765.2 174.4 L766.6 182"/></g>
<g font-size="7.3" fill="#2a2e39" stroke="#2a2e39" stroke-width="0.22">
<text x="972" y="52.3" textLength="21.2" lengthAdjust="spacingAndGlyphs">7 200,0</text>
<text x="972" y="70.6" textLength="21.2" lengthAdjust="spacingAndGlyphs">6 400,0</text>
<text x="972" y="89.9" textLength="21.2" lengthAdjust="spacingAndGlyphs">5 650,0</text>
<text x="972" y="107.3" textLength="21.2" lengthAdjust="spacingAndGlyphs">5 050,0</text>
<text x="972" y="149.3" textLength="21.2" lengthAdjust="spacingAndGlyphs">3 850,0</text>
<text x="972" y="166.3" textLength="21.2" lengthAdjust="spacingAndGlyphs">3 450,0</text>
<text x="972" y="185.4" textLength="21.2" lengthAdjust="spacingAndGlyphs">3 050,0</text>
<text x="972" y="225.8" textLength="21.2" lengthAdjust="spacingAndGlyphs">2 350,0</text>
<text x="972" y="290.3" textLength="21.2" lengthAdjust="spacingAndGlyphs">1 550,0</text>
<text x="972" y="311.7" textLength="21.2" lengthAdjust="spacingAndGlyphs">1 350,0</text>
<text x="972" y="331.2" textLength="21.2" lengthAdjust="spacingAndGlyphs">1 190,0</text>
<text x="972" y="353.6" textLength="21.2" lengthAdjust="spacingAndGlyphs">1 030,0</text>
<text x="972" y="373.7" textLength="16.0" lengthAdjust="spacingAndGlyphs">905,0</text>
<text x="972" y="391.8" textLength="16.0" lengthAdjust="spacingAndGlyphs">805,0</text>
<text x="972" y="412.3" textLength="16.0" lengthAdjust="spacingAndGlyphs">705,0</text>
<text x="972" y="431.0" textLength="16.0" lengthAdjust="spacingAndGlyphs">625,0</text>
<text x="972" y="449.4" textLength="16.0" lengthAdjust="spacingAndGlyphs">555,0</text>
<text x="972" y="467.1" textLength="16.0" lengthAdjust="spacingAndGlyphs">495,0</text>
</g>
<g font-size="7.3" fill="#2a2e39" stroke="#2a2e39" stroke-width="0.22">
<text x="972" y="125.8" textLength="21.2" lengthAdjust="spacingAndGlyphs">4 450,0</text>
<text x="972" y="207.2" textLength="21.2" lengthAdjust="spacingAndGlyphs">2 650,0</text>
<text x="972" y="247.0" textLength="21.2" lengthAdjust="spacingAndGlyphs">2 050,0</text>
<text x="972" y="271.5" textLength="21.2" lengthAdjust="spacingAndGlyphs">1 750,0</text>
</g>
<rect x="967" y="122.9" width="29" height="9.2" fill="#f7931a"/>
<text x="972" y="129.8" font-size="7.3" fill="#2a1a00" font-weight="normal" textLength="20.8" lengthAdjust="spacingAndGlyphs">4 275,5</text>
<rect x="967" y="166.9" width="29" height="9.2" fill="#f7931a"/>
<text x="972" y="173.8" font-size="7.3" fill="#2a1a00" font-weight="normal" textLength="20.8" lengthAdjust="spacingAndGlyphs">3 300,0</text>
<rect x="967" y="190.9" width="29" height="9.2" fill="#f7931a"/>
<text x="972" y="197.8" font-size="7.3" fill="#2a1a00" font-weight="normal" textLength="20.8" lengthAdjust="spacingAndGlyphs">2 830,0</text>
<rect x="967" y="203.9" width="29" height="9.2" fill="#f7931a"/>
<text x="972" y="210.8" font-size="7.3" fill="#2a1a00" font-weight="normal" textLength="20.8" lengthAdjust="spacingAndGlyphs">2 600,0</text>
<rect x="967" y="236.8" width="29" height="9.2" fill="#f7931a"/>
<text x="972" y="243.7" font-size="7.3" fill="#2a1a00" font-weight="normal" textLength="20.8" lengthAdjust="spacingAndGlyphs">2 100,0</text>
<rect x="967" y="260.2" width="29" height="9.2" fill="#f7931a"/>
<text x="972" y="267.1" font-size="7.3" fill="#2a1a00" font-weight="normal" textLength="20.8" lengthAdjust="spacingAndGlyphs">1 800,0</text>
<rect x="967" y="132.3" width="29" height="9.2" fill="#5b2fb0"/>
<text x="972" y="139.2" font-size="7.3" fill="#ffffff" font-weight="bold" textLength="21.6" lengthAdjust="spacingAndGlyphs">4 135,0</text>
<rect x="969.6" y="24.7" width="26" height="13.6" rx="1.5" fill="#fff" stroke="#eceef2" stroke-width="0.9"/>
<text x="971.3" y="34" font-size="7.1" fill="#2a2e39" stroke="#2a2e39" stroke-width="0.15" textLength="12.5" lengthAdjust="spacingAndGlyphs">RUB</text>
<path d="M990 31.1 L993.6 31.1 L991.8 33 Z" fill="#2a2e39"/>
<g font-size="7.2" fill="#2a2e39" text-anchor="middle">
<text x="48.3" y="489.4" font-weight="bold" font-size="6.7" stroke="#2a2e39" stroke-width="0">2021</text>
<text x="122" y="489.4" font-weight="normal" font-size="6.6" stroke="#2a2e39" stroke-width="0.25">Июл</text>
<text x="195.5" y="489.4" font-weight="bold" font-size="6.7" stroke="#2a2e39" stroke-width="0">2022</text>
<text x="260.8" y="489.4" font-weight="normal" font-size="6.6" stroke="#2a2e39" stroke-width="0.25">Июл</text>
<text x="334.7" y="489.4" font-weight="bold" font-size="6.7" stroke="#2a2e39" stroke-width="0">2023</text>
<text x="408.1" y="489.4" font-weight="normal" font-size="6.6" stroke="#2a2e39" stroke-width="0.25">Июл</text>
<text x="482.1" y="489.4" font-weight="bold" font-size="6.7" stroke="#2a2e39" stroke-width="0">2024</text>
<text x="555.6" y="489.4" font-weight="normal" font-size="6.6" stroke="#2a2e39" stroke-width="0.25">Июл</text>
<text x="632.4" y="489.4" font-weight="bold" font-size="6.7" stroke="#2a2e39" stroke-width="0">2025</text>
<text x="705.5" y="489.4" font-weight="normal" font-size="6.6" stroke="#2a2e39" stroke-width="0.25">Июл</text>
<text x="779.5" y="489.4" font-weight="bold" font-size="6.7" stroke="#2a2e39" stroke-width="0">2026</text>
<text x="853.3" y="489.4" font-weight="normal" font-size="6.6" stroke="#2a2e39" stroke-width="0.25">Июл</text>
<text x="926.8" y="489.4" font-weight="bold" font-size="6.7" stroke="#2a2e39" stroke-width="0">2027</text>
</g>
<g fill="none" stroke="#2a2e39" stroke-width="0.9"><path d="M980.6 483.6 L985.2 483.6 L987.5 487.5 L985.2 491.4 L980.6 491.4 L978.3 487.5 Z" stroke-linejoin="round"/><circle cx="982.9" cy="487.5" r="1.4"/></g>
<path d="M78.8 467 h8 a0.9 0.9 0 0 1 0.9 0.9 v6.3 l-4.9 3.6 l-4.9 -3.6 v-6.3 a0.9 0.9 0 0 1 0.9 -0.9 z" fill="#fff5f6" stroke="#d9384f" stroke-width="1.1"/><text x="82.8" y="473.9" font-size="6.6" font-weight="bold" fill="#d9384f" text-anchor="middle">E</text>
<path d="M135.2 467 h8 a0.9 0.9 0 0 1 0.9 0.9 v6.3 l-4.9 3.6 l-4.9 -3.6 v-6.3 a0.9 0.9 0 0 1 0.9 -0.9 z" fill="#fff5f6" stroke="#d9384f" stroke-width="1.1"/><text x="139.2" y="473.9" font-size="6.6" font-weight="bold" fill="#d9384f" text-anchor="middle">E</text>
<path d="M171.7 467 h8 a0.9 0.9 0 0 1 0.9 0.9 v6.3 l-4.9 3.6 l-4.9 -3.6 v-6.3 a0.9 0.9 0 0 1 0.9 -0.9 z" fill="#fff5f6" stroke="#d9384f" stroke-width="1.1"/><text x="175.7" y="473.9" font-size="6.6" font-weight="bold" fill="#d9384f" text-anchor="middle">E</text>
<rect x="97.8" y="467.1" width="9.3" height="9.7" rx="1.1" fill="#ffffff" stroke="#4b4d55" stroke-width="1.1"/><text x="102.4" y="474.5" font-size="6.4" fill="#4b4d55" stroke="#4b4d55" stroke-width="0.3" text-anchor="middle">E</text>
<rect x="219.6" y="467.1" width="9.3" height="9.7" rx="1.1" fill="#ffffff" stroke="#4b4d55" stroke-width="1.1"/><text x="224.2" y="474.5" font-size="6.4" fill="#4b4d55" stroke="#4b4d55" stroke-width="0.3" text-anchor="middle">E</text>
<rect x="238.9" y="467.1" width="9.3" height="9.7" rx="1.1" fill="#ffffff" stroke="#4b4d55" stroke-width="1.1"/><text x="243.5" y="474.5" font-size="6.4" fill="#4b4d55" stroke="#4b4d55" stroke-width="0.3" text-anchor="middle">E</text>
<rect x="276.2" y="467.1" width="9.3" height="9.7" rx="1.1" fill="#ffffff" stroke="#4b4d55" stroke-width="1.1"/><text x="280.8" y="474.5" font-size="6.4" fill="#4b4d55" stroke="#4b4d55" stroke-width="0.3" text-anchor="middle">E</text>
<rect x="309.9" y="467.1" width="9.3" height="9.7" rx="1.1" fill="#ffffff" stroke="#4b4d55" stroke-width="1.1"/><text x="314.5" y="474.5" font-size="6.4" fill="#4b4d55" stroke="#4b4d55" stroke-width="0.3" text-anchor="middle">E</text>
<rect x="366.5" y="467.1" width="9.3" height="9.7" rx="1.1" fill="#ffffff" stroke="#4b4d55" stroke-width="1.1"/><text x="371.1" y="474.5" font-size="6.4" fill="#4b4d55" stroke="#4b4d55" stroke-width="0.3" text-anchor="middle">E</text>
<rect x="386.4" y="467.1" width="9.3" height="9.7" rx="1.1" fill="#ffffff" stroke="#4b4d55" stroke-width="1.1"/><text x="391" y="474.5" font-size="6.4" fill="#4b4d55" stroke="#4b4d55" stroke-width="0.3" text-anchor="middle">E</text>
<rect x="423.3" y="467.1" width="9.3" height="9.7" rx="1.1" fill="#ffffff" stroke="#4b4d55" stroke-width="1.1"/><text x="427.9" y="474.5" font-size="6.4" fill="#4b4d55" stroke="#4b4d55" stroke-width="0.3" text-anchor="middle">E</text>
<rect x="457.6" y="467.1" width="9.3" height="9.7" rx="1.1" fill="#ffffff" stroke="#4b4d55" stroke-width="1.1"/><text x="462.2" y="474.5" font-size="6.4" fill="#4b4d55" stroke="#4b4d55" stroke-width="0.3" text-anchor="middle">E</text>
<rect x="531.3" y="467.1" width="9.3" height="9.7" rx="1.1" fill="#ffffff" stroke="#4b4d55" stroke-width="1.1"/><text x="535.9" y="474.5" font-size="6.4" fill="#4b4d55" stroke="#4b4d55" stroke-width="0.3" text-anchor="middle">E</text>
<rect x="565.4" y="467.1" width="9.3" height="9.7" rx="1.1" fill="#ffffff" stroke="#4b4d55" stroke-width="1.1"/><text x="570" y="474.5" font-size="6.4" fill="#4b4d55" stroke="#4b4d55" stroke-width="0.3" text-anchor="middle">E</text>
<rect x="601.3" y="467.1" width="9.3" height="9.7" rx="1.1" fill="#ffffff" stroke="#4b4d55" stroke-width="1.1"/><text x="605.9" y="474.5" font-size="6.4" fill="#4b4d55" stroke="#4b4d55" stroke-width="0.3" text-anchor="middle">E</text>
<rect x="672.7" y="467.1" width="9.3" height="9.7" rx="1.1" fill="#ffffff" stroke="#4b4d55" stroke-width="1.1"/><text x="677.3" y="474.5" font-size="6.4" fill="#4b4d55" stroke="#4b4d55" stroke-width="0.3" text-anchor="middle">E</text>
<rect x="755.2" y="467.1" width="9.3" height="9.7" rx="1.1" fill="#fdf3fe" stroke="#cd62dc" stroke-width="1.1"/><text x="759.8" y="474.5" font-size="6.4" fill="#cd62dc" stroke="#cd62dc" stroke-width="0.3" text-anchor="middle">E</text>
<rect x="753.4" y="470.4" width="2" height="3.2" rx="0.6" fill="#cd62dc"/>
<g fill="#000"><path d="M7 463.2 h6.7 v8.1 h-3.3 v-4.9 h-3.4 z"/><circle cx="16.4" cy="464.9" r="1.6"/><path d="M19.3 463.2 h4.3 l-3.4 8.1 h-4.1 z"/></g>
<rect x="0" y="0" width="1000" height="18.5" fill="#ffffff"/>
<rect x="0" y="18.4" width="1000" height="3.6" fill="#e8e9ed"/>
<rect x="997.7" y="19.5" width="2.3" height="478.5" fill="#e8e9ed"/>
<rect x="0" y="495.6" width="1000" height="2.4" fill="#e8e9ed"/>
<rect x="960" y="496.2" width="40" height="1.8" fill="#cfd2d9"/>
<g fill="none" stroke="#16181d" stroke-width="1.15"><circle cx="8.2" cy="8.8" r="2.9"/><path d="M10.3 11 L12.4 13.1"/></g>
<text x="16" y="11.8" font-size="7.2" font-weight="bold" fill="#16181d">OZON</text>
<g fill="none" stroke="#16181d" stroke-width="0.8"><circle cx="65" cy="9.3" r="5.7"/><path d="M62.2 9.3 h5.6 M65 6.5 v5.6"/></g>
<line x1="76.5" y1="3" x2="76.5" y2="16" stroke="#f6f7f9" stroke-width="1"/>
<rect x="177.8" y="0" width="9.4" height="18.5" fill="#eceef2"/>
<g font-size="7.7" fill="#16181d" stroke="#16181d" stroke-width="0.15">
<text x="84.4" y="12.2">1м</text>
<text x="100.7" y="12.2">5м</text>
<text x="117" y="12.2">15м</text>
<text x="137.4" y="12.2">1ч</text>
<text x="152.4" y="12.2">4ч</text>
<text x="167.3" y="12.2">Д</text>
<text x="179.4" y="12.2" stroke-width="0.45">Н</text>
<text x="191.8" y="12.2" fill="#787c87" stroke="none">М</text>
</g>
<path d="M205.6 8.3 l2 2 l2 -2" fill="none" stroke="#16181d" stroke-width="0.8"/>
<line x1="217.5" y1="3" x2="217.5" y2="16" stroke="#f6f7f9" stroke-width="1"/>
<g fill="none" stroke="#16181d" stroke-width="0.7"><rect x="227.2" y="6" width="2.4" height="7"/><path d="M228.4 3.6 v2.4 M228.4 13 v2.2"/><rect x="232.4" y="7.2" width="2.4" height="4.4"/><path d="M233.6 4.8 v2.4 M233.6 11.6 v2.4"/></g>
<line x1="243.5" y1="3" x2="243.5" y2="16" stroke="#f1f2f5" stroke-width="1"/>
<g fill="none" stroke="#16181d" stroke-width="0.8"><path d="M252 8.6 l2.6 -2.4 l2.2 1.6 l3.4 -3.4 l2 1"/><path d="M252.4 14 v-3.2 h2.2 v3.2 M256.2 14 v-4.4 h2.2 v4.4 M260 14 v-5.4 h2.2 v5.4 M251.4 14.2 h11.6"/></g>
<text x="267.5" y="12.1" font-size="7.85" fill="#16181d" stroke="#16181d" stroke-width="0.2" textLength="44.6" lengthAdjust="spacingAndGlyphs">Индикаторы</text>
<g fill="none" stroke="#41444e" stroke-width="0.8"><rect x="323.8" y="5.2" width="3.3" height="3.3" rx="1.1"/><rect x="329.1" y="5.2" width="3.3" height="3.3" rx="1.1"/><rect x="323.8" y="10" width="3.3" height="3.3" rx="1.1"/><rect x="329.1" y="10" width="3.3" height="3.3" rx="1.1"/></g>
<line x1="340.5" y1="3" x2="340.5" y2="16" stroke="#f1f2f5" stroke-width="1"/>
<g fill="none" stroke="#16181d" stroke-width="0.8"><circle cx="355" cy="9.6" r="4.2"/><path d="M355 7.2 v2.6 h2 M350.8 6 l1.6 -1.6 M359.2 6 l-1.6 -1.6"/></g>
<circle cx="358.6" cy="13" r="2.2" fill="#fff"/>
<path d="M357.2 13 h2.8 M358.6 11.6 v2.8" stroke="#16181d" stroke-width="0.8"/>
<text x="364.6" y="12.1" font-size="7.75" fill="#16181d" stroke="#16181d" stroke-width="0.2">Оповещения</text>
<g fill="none" stroke="#16181d" stroke-width="0.8" stroke-linejoin="round"><path d="M426.8 6.4 L423 9.4 L426.8 12.4 Z"/><path d="M432 6.4 L428.2 9.4 L432 12.4 Z"/></g>
<text x="437" y="12.1" font-size="7.85" fill="#16181d" stroke="#16181d" stroke-width="0.2">Симулятор рынка</text>
<line x1="509.5" y1="3" x2="509.5" y2="16" stroke="#f1f2f5" stroke-width="1"/>
<g fill="none" stroke="#16181d" stroke-width="0.8"><path d="M520.4 6 l-2.2 2.2 l2.2 2.2 M518.4 8.2 h4 a2.4 2.4 0 0 1 2.4 2.4 v1.2"/></g>
<g fill="none" stroke="#b4b8c2" stroke-width="0.8"><path d="M545.6 6 l2.2 2.2 l-2.2 2.2 M547.6 8.2 h-4 a2.4 2.4 0 0 0 -2.4 2.4 v1.2"/></g>
<rect x="781.8" y="5.2" width="9.8" height="8.4" rx="1" fill="none" stroke="#16181d" stroke-width="0.8"/><line x1="782" y1="5.5" x2="791.4" y2="5.5" stroke="#16181d" stroke-width="1.1"/>
<text x="801" y="9.4" font-size="7.6" fill="#16181d" stroke="#16181d" stroke-width="0.18">Без названия</text>
<text x="811" y="15.2" font-size="5.5" fill="#2f66e8" textLength="26.6" lengthAdjust="spacingAndGlyphs">Сохранить</text>
<path d="M856.6 7.8 l2 2 l2 -2" fill="none" stroke="#16181d" stroke-width="0.8"/>
<line x1="868.5" y1="3" x2="868.5" y2="16" stroke="#f1f2f5" stroke-width="1"/>
<g fill="none" stroke="#16181d" stroke-width="0.8" stroke-linejoin="round" stroke-linecap="round"><path d="M882.6 5.6 A3.7 3.7 0 1 1 878.6 5.4"/><path d="M883.1 11.5 L886.2 14.6"/><path d="M881.9 2.8 L879.3 8.3 H882 L880.3 11.4"/></g>
<g fill="none" stroke="#16181d" stroke-width="0.8" stroke-linejoin="round"><path d="M900 4.8 L905.6 4.8 L908.6 9.4 L905.6 14 L900 14 L897 9.4 Z"/><circle cx="902.8" cy="9.4" r="2"/></g>
<g fill="none" stroke="#16181d" stroke-width="0.8"><path d="M919.6 7.6 v-1.6 a1 1 0 0 1 1 -1 h1.6 M925.8 5 h1.6 a1 1 0 0 1 1 1 v1.6 M928.4 11 v1.6 a1 1 0 0 1 -1 1 h-1.6 M922.2 13.6 h-1.6 a1 1 0 0 1 -1 -1 v-1.6"/></g>
<g fill="none" stroke="#16181d" stroke-width="0.8" stroke-linejoin="round"><path d="M940.4 6.6 h2 l0.9 -1.4 h3.6 l0.9 1.4 h2 a0.9 0.9 0 0 1 0.9 0.9 v5 a0.9 0.9 0 0 1 -0.9 0.9 h-9.4 a0.9 0.9 0 0 1 -0.9 -0.9 v-5 a0.9 0.9 0 0 1 0.9 -0.9 z"/><circle cx="945.3" cy="9.9" r="2.3"/></g>
<rect x="958.6" y="1.4" width="60" height="15.6" rx="7.8" fill="#27282b"/>
<text x="964.6" y="11.9" font-size="7.9" fill="#ffffff" stroke="#ffffff" stroke-width="0.3">Опубликовать</text>
<defs><clipPath id="fc"><ellipse cx="10.2" cy="31.9" rx="5" ry="3.7"/></clipPath></defs>
<g clip-path="url(#fc)"><rect x="5" y="27" width="11" height="3.6" fill="#eef0f4"/><rect x="5" y="30.6" width="11" height="2.5" fill="#2f62d9"/><rect x="5" y="33.1" width="11" height="3.2" fill="#e0394c"/></g>
<text x="17.4" y="34.5" font-size="8.3" fill="#16181d" stroke="#16181d" stroke-width="0.18" textLength="91.4" lengthAdjust="spacingAndGlyphs">МКПАО Озон · 1Н · RUS</text>
<rect x="115.6" y="27.6" width="7.6" height="7.6" rx="1.6" fill="#eceef2"/><rect x="117.6" y="31" width="3.6" height="1" fill="#7d808a"/>
<text x="128.75" y="34.4" font-size="6.6" fill="#16181d" textLength="17.50" lengthAdjust="spacingAndGlyphs" >ОТКР</text>
<text x="147" y="34.4" font-size="7.0" fill="#1a9c83" textLength="23.75" lengthAdjust="spacingAndGlyphs" >4 092,0</text>
<text x="173.75" y="34.4" font-size="6.6" fill="#16181d" textLength="17.75" lengthAdjust="spacingAndGlyphs" >МАКС</text>
<text x="192.5" y="34.4" font-size="7.0" fill="#1a9c83" textLength="23.75" lengthAdjust="spacingAndGlyphs" >4 400,0</text>
<text x="220" y="34.4" font-size="6.6" fill="#16181d" textLength="14.50" lengthAdjust="spacingAndGlyphs" >МИН</text>
<text x="235" y="34.4" font-size="7.0" fill="#1a9c83" textLength="24.00" lengthAdjust="spacingAndGlyphs" >4 068,0</text>
<text x="262.5" y="34.4" font-size="6.6" fill="#16181d" textLength="16.00" lengthAdjust="spacingAndGlyphs" >ЗАКР</text>
<text x="279" y="34.4" font-size="7.0" fill="#1a9c83" textLength="23.50" lengthAdjust="spacingAndGlyphs" >4 135,0</text>
<text x="306" y="34.4" font-size="7.0" fill="#1a9c83" textLength="48.00" lengthAdjust="spacingAndGlyphs" >+23,0 (+0,56%)</text>
<rect x="4.7" y="41" width="40.6" height="17.4" rx="2.4" fill="#fff" stroke="#e58a95" stroke-width="0.9"/>
<text x="25.4" y="48.4" font-size="7.2" fill="#d9384f" text-anchor="middle">4 135,0</text>
<text x="25" y="55.8" font-size="6.3" fill="#d9384f" text-anchor="middle">ПРОДАТЬ</text>
<text x="54" y="51.6" font-size="5.8" fill="#16181d" text-anchor="middle">0,0</text>
<rect x="62.7" y="41" width="36.6" height="17.4" rx="2.4" fill="#fff" stroke="#8aa6ea" stroke-width="0.9"/>
<text x="81" y="48.4" font-size="7.2" fill="#2f62d9" text-anchor="middle">4 135,0</text>
<text x="81" y="55.8" font-size="6.2" fill="#2f62d9" text-anchor="middle">КУПИТЬ</text>
<rect x="4.6" y="64.6" width="21.6" height="10.6" rx="1.6" fill="#fff" stroke="#e4e6eb" stroke-width="0.9"/>
<path d="M8.2 69.2 l2.1 2 l2.1 -2" fill="none" stroke="#16181d" stroke-width="1"/>
<text x="16" y="72.7" font-size="6.9" fill="#16181d" stroke="#16181d" stroke-width="0.25">10</text>
</svg></body></html>
